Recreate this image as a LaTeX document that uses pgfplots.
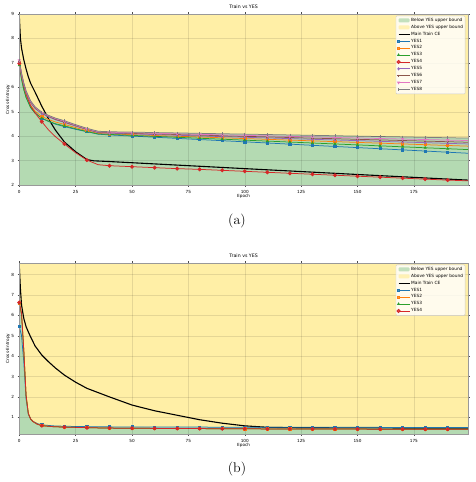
\documentclass[border=0pt]{standalone}
\usepackage{pgfplots}
\pgfplotsset{compat=1.18}
\usepackage{pgfplotstable}
\usepackage{fontspec}
\newfontfamily\dejavu{DejaVu Sans}

% tab10 palette
\definecolor{c1}{HTML}{1F77B4}
\definecolor{c2}{HTML}{FF7F0E}
\definecolor{c3}{HTML}{2CA02C}
\definecolor{c4}{HTML}{D62728}
\definecolor{c5}{HTML}{9467BD}
\definecolor{c6}{HTML}{8C564B}
\definecolor{c7}{HTML}{E377C2}
\definecolor{c8}{HTML}{7F7F7F}
\definecolor{below}{RGB}{180,218,178}
\definecolor{above}{RGB}{255,239,166}

\newcommand\smallfont{\dejavu\fontsize{4.2}{5}\selectfont}

% Run (a): eight YES probes
\pgfplotstableread{
ep   y1    y2    y3    y4    y5    y6    y7    y8
0    6.95  7.00  6.90  6.98  7.05  7.05  7.10  7.12
1    6.35  6.42  6.32  6.45  6.50  6.52  6.55  6.58
2    5.92  6.00  5.90  6.05  6.10  6.12  6.15  6.18
3    5.60  5.68  5.58  5.72  5.78  5.80  5.83  5.86
5    5.18  5.26  5.17  5.25  5.37  5.39  5.42  5.45
7    4.95  5.02  4.94  4.95  5.13  5.15  5.18  5.20
10   4.73  4.80  4.73  4.59  4.92  4.94  4.96  4.98
13   4.60  4.68  4.61  4.25  4.79  4.81  4.83  4.85
16   4.49  4.58  4.51  3.98  4.67  4.69  4.72  4.74
20   4.39  4.48  4.42  3.68  4.56  4.58  4.61  4.63
25   4.28  4.35  4.30  3.32  4.41  4.43  4.45  4.47
30   4.18  4.22  4.19  3.02  4.27  4.28  4.30  4.32
35   4.08  4.11  4.09  2.83  4.14  4.16  4.18  4.20
40   4.05  4.09  4.07  2.79  4.12  4.14  4.16  4.18
50   4.003 4.059 4.031 2.75  4.092 4.115 4.139 4.164
60   3.956 4.027 3.992 2.71  4.065 4.091 4.117 4.147
70   3.908 3.996 3.953 2.67  4.037 4.066 4.096 4.131
80   3.861 3.964 3.914 2.64  4.009 4.042 4.074 4.115
90   3.814 3.933 3.875 2.60  3.982 4.017 4.053 4.098
100  3.767 3.901 3.836 2.56  3.954 3.993 4.032 4.082
110  3.720 3.870 3.797 2.52  3.926 3.968 4.010 4.066
120  3.673 3.838 3.758 2.48  3.899 3.944 3.989 4.049
130  3.625 3.807 3.719 2.44  3.871 3.919 3.968 4.033
140  3.578 3.775 3.680 2.40  3.843 3.895 3.946 4.017
150  3.531 3.744 3.641 2.36  3.816 3.870 3.925 4.000
160  3.484 3.713 3.602 2.32  3.788 3.846 3.903 3.984
170  3.437 3.681 3.563 2.28  3.760 3.821 3.882 3.968
180  3.390 3.650 3.524 2.24  3.733 3.797 3.861 3.951
190  3.342 3.618 3.485 2.20  3.705 3.772 3.839 3.935
199  3.300 3.590 3.450 2.17  3.680 3.750 3.820 3.920
}\topyes

\pgfplotstableread{
ep   ce
0    8.93
0.5  8.00
1    7.60
2    7.12
3    6.75
4    6.43
5    6.17
7    5.80
10   5.22
13   4.70
16   4.25
20   3.76
25   3.36
30   3.04
33   2.99
40   2.96
100  2.67
150  2.43
199  2.20
}\topce

% Run (b): four YES probes
\pgfplotstableread{
ep   y1    y2    y3    y4    ub
0    5.45  6.60  6.60  6.63  6.63
1    5.00  6.05  6.05  6.10  6.10
2    3.70  4.25  4.25  4.30  4.30
3    1.90  2.05  2.05  2.10  2.10
4    1.15  1.18  1.18  1.20  1.20
5    0.93  0.91  0.91  0.92  0.93
6    0.81  0.79  0.79  0.80  0.81
8    0.69  0.66  0.66  0.66  0.69
10   0.63  0.59  0.59  0.59  0.63
15   0.58  0.54  0.54  0.54  0.58
20   0.56  0.52  0.52  0.52  0.56
30   0.54  0.49  0.49  0.49  0.54
40   0.53  0.47  0.47  0.47  0.53
50   0.525 0.46  0.46  0.46  0.525
60   0.522 0.455 0.455 0.455 0.522
70   0.520 0.45  0.45  0.45  0.520
80   0.518 0.445 0.445 0.445 0.518
90   0.516 0.44  0.44  0.44  0.516
100  0.514 0.435 0.435 0.435 0.514
110  0.512 0.43  0.43  0.43  0.512
120  0.510 0.428 0.428 0.428 0.510
130  0.509 0.425 0.425 0.425 0.509
140  0.508 0.422 0.422 0.422 0.508
150  0.506 0.42  0.42  0.42  0.506
160  0.505 0.418 0.418 0.418 0.505
170  0.503 0.415 0.415 0.415 0.503
180  0.502 0.413 0.413 0.413 0.502
190  0.500 0.41  0.41  0.41  0.500
199  0.500 0.41  0.41  0.41  0.500
}\botyes

\pgfplotstableread{
ep   ce
0    8.45
0.5  7.30
1    6.50
2    5.85
3    5.45
4    5.19
5    4.95
7    4.50
10   4.05
13   3.72
16   3.42
20   3.07
25   2.72
30   2.42
40   2.00
50   1.60
60   1.32
70   1.10
80   0.88
90   0.71
100  0.58
110  0.51
120  0.49
150  0.48
199  0.47
}\botce

\pgfplotsset{
  lossaxis/.style={
    scale only axis, width=448.7pt, height=171pt,
    xmin=0, xmax=199,
    xtick={0,25,50,75,100,125,150,175},
    /pgf/number format/assume math mode=true,
    tick label style={font=\smallfont},
    label style={font=\smallfont},
    tick align=outside, major tick length=1.6pt,
    tick style={black!70, line width=0.4pt},
    axis line style={black!40, line width=0.8pt},
    grid=major, grid style={black, opacity=0.1, line width=0.4pt},
    axis on top,
    axis background/.style={fill=above},
    xlabel=Epoch, ylabel=Cross-Entropy,
    title=Train vs YES,
    every axis title shift=0pt,
    title style={at={(axis description cs:0.5,1)}, anchor=south, yshift=1.6pt,
      font=\dejavu\fontsize{4.7}{5}\selectfont},
    xlabel style={at={(axis description cs:0.5,-0.068)}, anchor=center},
    ylabel style={at={(axis description cs:-0.025,0.5)}, anchor=center},
    legend cell align=left,
    legend style={at={(axis description cs:0.994,0.99)}, anchor=north east,
      font=\dejavu\fontsize{4.3}{5}\selectfont, draw=black!20, fill=white,
      fill opacity=0.8, text opacity=1, rounded corners=1pt,
      inner sep=1pt, nodes={inner sep=1.1pt}},
    legend image code/.code={\draw[mark repeat=2,mark phase=2,##1]
      plot coordinates {(0pt,0pt) (5.5pt,0pt) (11pt,0pt)};},
  },
  areaentry/.style={legend image code/.code={\fill[##1] (0pt,-2pt) rectangle (11pt,2pt);}},
  yes/.style={line width=0.75pt, mark size=1.1pt, mark options={solid}},
  ce/.style={black, line width=1.1pt},
}

\begin{document}
\begin{tikzpicture}
\useasboundingbox (0pt,0pt) rectangle (475pt,482pt);

% (a)
\begin{axis}[lossaxis, at={(19.3pt,297pt)}, anchor=south west,
  ymin=2, ymax=9, ytick={2,3,4,5,6,7,8,9}]
  \addplot[fill=below, draw=none, areaentry] table[x=ep,y=y8]{\topyes} \closedcycle;
  \addlegendentry{Below YES upper bound}
  \addlegendimage{areaentry, fill=above, draw=none}
  \addlegendentry{Above YES upper bound}
  \addplot[ce] table[x=ep,y=ce]{\topce};
  \addlegendentry{Main Train CE}
  \addplot[yes, c1, mark=square*, mark indices={1,7,10,12,14,15,16,17,18,19,20,21,22,23,24,25,26,27,28,29}] table[x=ep,y=y1]{\topyes};
  \addlegendentry{YES1}
  \addplot[yes, c2, mark=square*, mark indices={1,7,10,12,14,15,16,17,18,19,20,21,22,23,24,25,26,27,28,29}] table[x=ep,y=y2]{\topyes};
  \addlegendentry{YES2}
  \addplot[yes, c3, mark=triangle*, mark indices={1,7,10,12,14,15,16,17,18,19,20,21,22,23,24,25,26,27,28,29}] table[x=ep,y=y3]{\topyes};
  \addlegendentry{YES3}
  \addplot[yes, c4, mark=*, mark size=1.6pt, mark indices={1,7,10,12,14,15,16,17,18,19,20,21,22,23,24,25,26,27,28,29}] table[x=ep,y=y4]{\topyes};
  \addlegendentry{YES4}
  \addplot[yes, c5, mark=diamond*, mark indices={1,7,10,12,14,15,16,17,18,19,20,21,22,23,24,25,26,27,28,29}] table[x=ep,y=y5]{\topyes};
  \addlegendentry{YES5}
  \addplot[yes, c6, mark=+, mark indices={1,7,10,12,14,15,16,17,18,19,20,21,22,23,24,25,26,27,28,29}] table[x=ep,y=y6]{\topyes};
  \addlegendentry{YES6}
  \addplot[yes, c7, mark=triangle*, mark options={rotate=180}, mark indices={1,7,10,12,14,15,16,17,18,19,20,21,22,23,24,25,26,27,28,29}] table[x=ep,y=y7]{\topyes};
  \addlegendentry{YES7}
  \addplot[yes, c8, mark=|, mark size=1.4pt, mark indices={1,7,10,12,14,15,16,17,18,19,20,21,22,23,24,25,26,27,28,29}] table[x=ep,y=y8]{\topyes};
  \addlegendentry{YES8}
\end{axis}

% (b)
\begin{axis}[lossaxis, at={(19.3pt,48pt)}, anchor=south west,
  ymin=0.18, ymax=8.57, ytick={1,2,3,4,5,6,7,8}]
  \addplot[fill=below, draw=none, areaentry] table[x=ep,y=ub]{\botyes} \closedcycle;
  \addlegendentry{Below YES upper bound}
  \addlegendimage{areaentry, fill=above, draw=none}
  \addlegendentry{Above YES upper bound}
  \addplot[ce] table[x=ep,y=ce]{\botce};
  \addlegendentry{Main Train CE}
  \addplot[yes, c1, mark=square*, mark indices={1,9,11,12,13,14,15,16,17,18,19,20,21,22,23,24,25,26,27,28}] table[x=ep,y=y1]{\botyes};
  \addlegendentry{YES1}
  \addplot[yes, c2, mark=square*, mark indices={1,9,11,12,13,14,15,16,17,18,19,20,21,22,23,24,25,26,27,28}] table[x=ep,y=y2]{\botyes};
  \addlegendentry{YES2}
  \addplot[yes, c3, mark=triangle*, mark indices={1,9,11,12,13,14,15,16,17,18,19,20,21,22,23,24,25,26,27,28}] table[x=ep,y=y3]{\botyes};
  \addlegendentry{YES3}
  \addplot[yes, c4, mark=*, mark size=1.6pt, mark indices={1,9,11,12,13,14,15,16,17,18,19,20,21,22,23,24,25,26,27,28}] table[x=ep,y=y4]{\botyes};
  \addlegendentry{YES4}
\end{axis}

\node[font=\fontsize{14}{16}\selectfont] at (237pt,261pt) {(a)};
\node[font=\fontsize{14}{16}\selectfont] at (237pt,13pt) {(b)};
\end{tikzpicture}
\end{document}
